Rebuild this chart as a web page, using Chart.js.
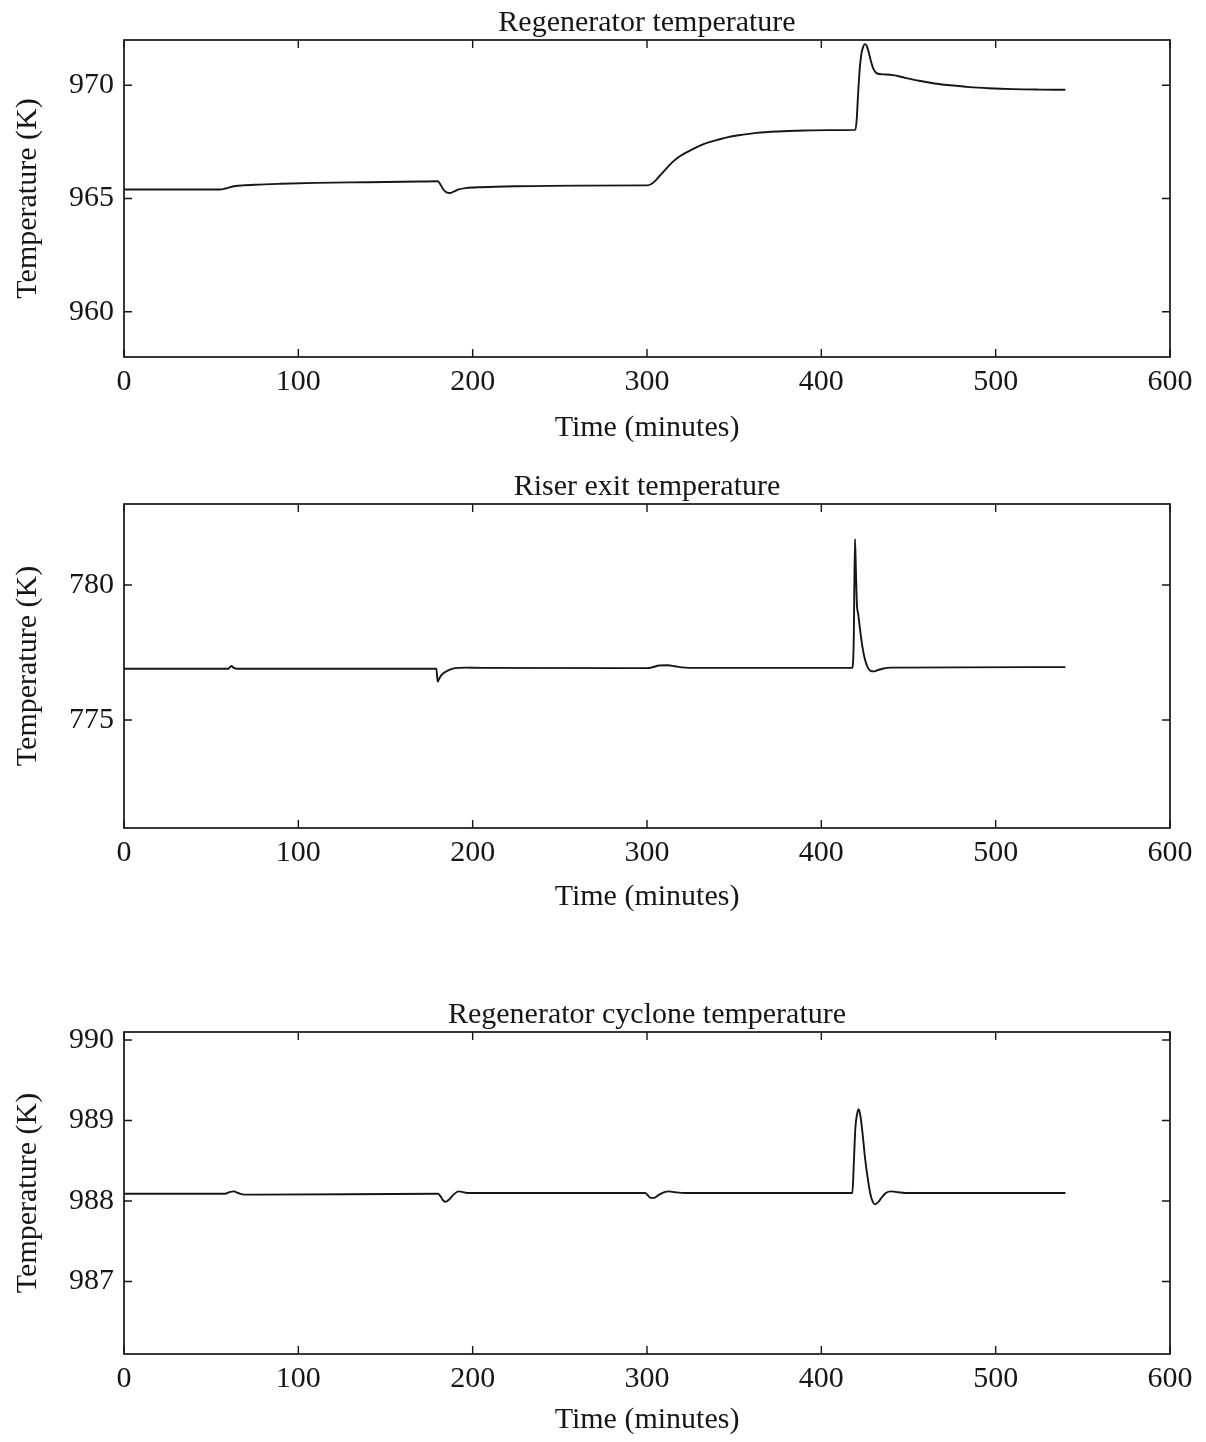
<!DOCTYPE html>
<html>
<head>
<meta charset="utf-8">
<script src="https://cdn.jsdelivr.net/npm/chart.js@4.4.1/dist/chart.umd.min.js"></script>
<style>
  html, body { margin: 0; padding: 0; background: #ffffff; }
  body { width: 1206px; height: 1442px; position: relative; overflow: hidden; }
  .panel { position: absolute; left: 0; width: 1206px; }
</style>
</head>
<body>
<div class="panel" style="top:0px;height:450px"><canvas id="regen"></canvas></div>
<div class="panel" style="top:464px;height:455px"><canvas id="riser"></canvas></div>
<div class="panel" style="top:992px;height:450px"><canvas id="cyclone"></canvas></div>
<script>
// Shared time axis (minutes)
const timeTicks = [0, 100, 200, 300, 400, 500, 600];

// Regenerator temperature (K)
const regenTime = [0, 55, 58, 61, 64, 68, 75, 90, 110, 140,
  170, 180, 181.5, 183, 185, 187, 189, 192, 196, 205,
  225, 260, 300, 302.5, 305, 307.5, 310, 314, 318, 323,
  328, 334, 340, 347, 355, 363, 375, 390, 405, 419.5,
  420.3, 421, 422, 423, 424, 425, 426, 427.2, 428.5, 430,
  432, 436, 441, 448, 456, 465, 474, 485, 496, 510,
  525, 540];
const regenTemp = [965.40, 965.40, 965.44, 965.50, 965.55, 965.58, 965.61, 965.65, 965.69, 965.72,
  965.75, 965.76, 965.62, 965.42, 965.27, 965.24, 965.30, 965.40, 965.46, 965.50,
  965.54, 965.57, 965.58, 965.64, 965.80, 966.02, 966.23, 966.56, 966.82, 967.05,
  967.25, 967.45, 967.58, 967.72, 967.82, 967.90, 967.96, 968.00, 968.02, 968.03,
  968.50, 969.50, 970.70, 971.40, 971.70, 971.82, 971.75, 971.45, 971.05, 970.70,
  970.52, 970.48, 970.45, 970.33, 970.20, 970.08, 970.00, 969.92, 969.87, 969.83,
  969.81, 969.80];
const regenTicks = [960, 965, 970];

// Riser exit temperature (K)
const riserTime = [0, 60, 61.5, 63, 65, 179.2, 179.9, 181, 183, 186,
  190, 196, 205, 300, 303, 307, 312, 316, 320, 330,
  417.8, 418.6, 419.3, 419.8, 420.4, 421.2, 422.3, 423.6, 425, 426.6,
  428.2, 430, 432, 435, 440, 540];
const riserTemp = [776.90, 776.90, 777.00, 776.93, 776.90, 776.90, 776.42, 776.56, 776.72, 776.84,
  776.92, 776.94, 776.93, 776.92, 776.95, 777.02, 777.03, 776.99, 776.95, 776.93,
  776.93, 778.00, 781.70, 780.60, 779.30, 778.90, 778.30, 777.70, 777.25, 776.95,
  776.82, 776.80, 776.84, 776.90, 776.94, 776.96];
const riserTicks = [775, 780];

// Regenerator cyclone temperature (K)
const cycloneTime = [0, 58, 60.5, 63, 65.5, 69, 75, 180, 181.5, 183,
  184.5, 186.5, 189, 192, 197, 299, 300.5, 302, 304, 307,
  310, 312.5, 316, 322, 417.8, 418.6, 419.5, 420.5, 421.4, 422.4,
  423.7, 425, 426.5, 428, 429.5, 430.8, 432.3, 434.5, 437, 440,
  444, 450, 540];
const cycloneTemp = [988.09, 988.09, 988.11, 988.12, 988.10, 988.08, 988.08, 988.09, 988.06, 988.01,
  987.99, 988.02, 988.08, 988.12, 988.10, 988.10, 988.07, 988.04, 988.04, 988.08,
  988.11, 988.12, 988.11, 988.10, 988.10, 988.45, 988.90, 989.08, 989.14, 989.06,
  988.83, 988.55, 988.30, 988.10, 987.99, 987.96, 987.98, 988.04, 988.10, 988.12,
  988.11, 988.10, 988.10];
const cycloneTicks = [987, 988, 989, 990];

const INK = '#161616';
const SERIF = '"Liberation Serif", "Times New Roman", serif';

// Closed box around the plot area with short inward tick marks on all four sides
const boxFrame = {
  id: 'boxFrame',
  afterDatasetsDraw(chart) {
    const { ctx, chartArea: a, scales } = chart;
    const len = 8;
    ctx.save();
    ctx.strokeStyle = INK;
    ctx.lineWidth = 1.7;
    ctx.strokeRect(a.left, a.top, a.right - a.left, a.bottom - a.top);
    ctx.lineWidth = 1.4;
    ctx.beginPath();
    scales.x.ticks.forEach(t => {
      const px = scales.x.getPixelForValue(t.value);
      ctx.moveTo(px, a.bottom); ctx.lineTo(px, a.bottom - len);
      ctx.moveTo(px, a.top); ctx.lineTo(px, a.top + len);
    });
    scales.y.ticks.forEach(t => {
      const py = scales.y.getPixelForValue(t.value);
      ctx.moveTo(a.left, py); ctx.lineTo(a.left + len, py);
      ctx.moveTo(a.right, py); ctx.lineTo(a.right - len, py);
    });
    ctx.stroke();
    ctx.restore();
  }
};

function tempChart(canvasId, title, times, temps, yMin, yMax, yTicks, xAxisHeight) {
  const points = times.map((t, i) => ({ x: t, y: temps[i] }));
  return new Chart(document.getElementById(canvasId), {
    type: 'line',
    data: {
      datasets: [{
        data: points,
        borderColor: INK,
        borderWidth: 1.9,
        pointRadius: 0,
        fill: false,
        cubicInterpolationMode: 'monotone'
      }]
    },
    options: {
      responsive: true,
      maintainAspectRatio: false,
      animation: false,
      layout: { padding: { left: 0, right: 36, top: 0, bottom: 0 } },
      plugins: {
        legend: { display: false },
        tooltip: { enabled: false },
        title: {
          display: true,
          fullSize: false,
          text: title,
          color: INK,
          font: { family: SERIF, size: 30, weight: 'normal', lineHeight: 1.1 },
          padding: { top: 7, bottom: 0 }
        }
      },
      scales: {
        x: {
          type: 'linear',
          min: 0,
          max: 600,
          afterBuildTicks: s => { s.ticks = timeTicks.map(v => ({ value: v })); },
          afterFit: s => { s.height = xAxisHeight; },
          grid: { display: false, drawTicks: false },
          border: { display: false },
          ticks: {
            color: INK,
            padding: 7,
            maxRotation: 0,
            font: { family: SERIF, size: 30 }
          },
          title: {
            display: true,
            text: 'Time (minutes)',
            color: INK,
            font: { family: SERIF, size: 30 },
            padding: { top: 0, bottom: 4 }
          }
        },
        y: {
          type: 'linear',
          min: yMin,
          max: yMax,
          afterBuildTicks: s => { s.ticks = yTicks.map(v => ({ value: v })); },
          afterFit: s => { s.width = 124; },
          grid: { display: false, drawTicks: false },
          border: { display: false },
          ticks: {
            color: INK,
            padding: 10,
            font: { family: SERIF, size: 30 }
          },
          title: {
            display: true,
            text: 'Temperature (K)',
            color: INK,
            font: { family: SERIF, size: 30 },
            padding: { top: 10, bottom: 0 }
          }
        }
      }
    },
    plugins: [boxFrame]
  });
}

tempChart('regen', 'Regenerator temperature', regenTime, regenTemp, 958, 972, regenTicks, 93);
tempChart('riser', 'Riser exit temperature', riserTime, riserTemp, 771, 783, riserTicks, 91);
tempChart('cyclone', 'Regenerator cyclone temperature', cycloneTime, cycloneTemp, 986.1, 990.1, cycloneTicks, 88);
</script>
</body>
</html>
